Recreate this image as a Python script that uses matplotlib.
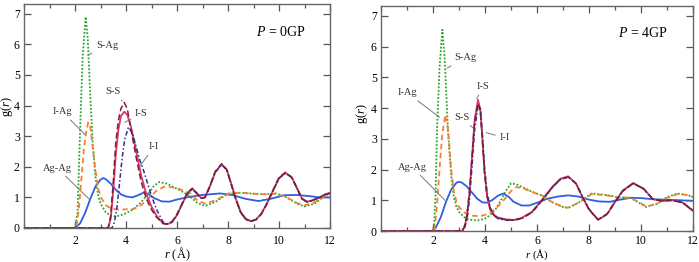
import matplotlib
matplotlib.use("Agg")
import matplotlib.pyplot as plt
from matplotlib.ticker import MultipleLocator

plt.rcParams['font.family'] = ['Liberation Serif', 'DejaVu Serif']
plt.rcParams['mathtext.fontset'] = 'custom'
plt.rcParams['mathtext.rm'] = 'Liberation Serif'
plt.rcParams['mathtext.it'] = 'Liberation Serif:italic'

# ---------------- P = 0 GPa ----------------
r0_agag = [0, 2.0, 2.2, 2.4, 2.6, 2.8, 3.0, 3.1, 3.2, 3.4, 3.6, 3.8, 4.0, 4.25, 4.5, 4.7, 4.9, 5.1, 5.4, 5.7,
           6.0, 6.5, 7.0, 7.7, 8.2, 8.7, 9.2, 9.7, 10.2, 10.7, 11.2, 11.6, 12.0]
g0_agag = [0, 0, 0.15, 0.5, 0.95, 1.35, 1.58, 1.63, 1.6, 1.45, 1.25, 1.1, 1.03, 1.0, 1.08, 1.16, 1.1, 0.98, 0.87, 0.86,
           0.93, 1.02, 1.08, 1.13, 1.07, 0.95, 0.88, 0.96, 1.07, 1.08, 1.04, 1.0, 1.0]

r0_sag = [0, 2.0, 2.1, 2.2, 2.3, 2.42, 2.5, 2.6, 2.7, 2.8, 2.9, 3.0, 3.2, 3.4, 3.6, 3.8, 4.0, 4.3, 4.6, 4.9, 5.1,
          5.3, 5.6, 6.0, 6.4, 6.8, 7.1, 7.5, 8.0, 8.5, 9.0, 9.5, 9.9, 10.3, 10.7, 11.0, 11.4, 11.8, 12.0]
g0_sag = [0, 0, 0.5, 3.2, 5.6, 6.9, 6.2, 4.3, 2.7, 1.7, 1.1, 0.8, 0.52, 0.4, 0.38, 0.42, 0.48, 0.62, 0.85, 1.15, 1.38,
          1.5, 1.45, 1.28, 1.1, 0.82, 0.72, 0.85, 1.12, 1.15, 1.12, 1.1, 1.13, 1.0, 0.8, 0.7, 0.8, 1.05, 1.15]

r0_iag = [0, 2.05, 2.15, 2.25, 2.35, 2.45, 2.52, 2.6, 2.7, 2.8, 2.9, 3.0, 3.2, 3.4, 3.7, 4.0, 4.3, 4.6, 4.9, 5.2,
          5.5, 5.8, 6.1, 6.5, 6.8, 7.1, 7.5, 8.0, 8.5, 9.0, 9.5, 9.9, 10.3, 10.7, 11.0, 11.4, 11.8, 12.0]
g0_iag = [0, 0, 0.6, 1.6, 2.6, 3.2, 3.45, 3.3, 2.6, 1.9, 1.35, 1.02, 0.75, 0.64, 0.6, 0.61, 0.62, 0.75, 0.98, 1.22,
          1.35, 1.33, 1.27, 1.15, 0.9, 0.8, 0.9, 1.12, 1.16, 1.12, 1.1, 1.12, 1.0, 0.82, 0.74, 0.84, 1.05, 1.15]

r0_ss = [0, 3.3, 3.4, 3.5, 3.6, 3.7, 3.8, 3.93, 4.05, 4.2, 4.4, 4.6, 4.8, 5.0, 5.2, 5.45, 5.6, 5.8, 6.0, 6.2, 6.4,
         6.6, 6.75, 6.95, 7.1, 7.3, 7.5, 7.75, 7.95, 8.1, 8.3, 8.5, 8.7, 8.9, 9.1, 9.3, 9.5, 9.8, 10.0, 10.25,
         10.5, 10.7, 10.9, 11.1, 11.3, 11.6, 11.8, 12.0]
g0_ss = [0, 0, 0.4, 1.5, 2.8, 3.5, 3.9, 4.1, 3.9, 3.2, 2.3, 1.5, 0.95, 0.6, 0.35, 0.15, 0.13, 0.2, 0.45, 0.8, 1.15,
         1.3, 1.15, 0.97, 1.0, 1.4, 1.85, 2.1, 1.9, 1.5, 0.95, 0.5, 0.28, 0.22, 0.27, 0.45, 0.75, 1.3, 1.65, 1.82,
         1.65, 1.3, 0.95, 0.85, 0.9, 1.0, 1.1, 1.15]
r0_is = r0_ss
g0_is = [0, 0, 0.3, 1.2, 2.4, 3.2, 3.65, 3.8, 3.7, 3.3, 2.5, 1.7, 1.1, 0.7, 0.4, 0.15, 0.12, 0.18, 0.42, 0.78, 1.12,
         1.28, 1.17, 0.98, 1.0, 1.38, 1.82, 2.08, 1.92, 1.52, 0.97, 0.52, 0.3, 0.23, 0.28, 0.46, 0.76, 1.28, 1.62, 1.8,
         1.66, 1.32, 0.97, 0.86, 0.9, 1.0, 1.08, 1.12]
r0_ii = [0, 3.45, 3.55, 3.65, 3.75, 3.85, 3.95, 4.1, 4.25, 4.4, 4.55, 4.7, 4.85, 5.0, 5.2, 5.45, 5.6, 5.8, 6.0, 6.2,
         6.4, 6.6, 6.75, 6.95, 7.1, 7.3, 7.5, 7.75, 7.95, 8.1, 8.3, 8.5, 8.7, 8.9, 9.1, 9.3, 9.5, 9.8, 10.0, 10.25,
         10.5, 10.7, 10.9, 11.1, 11.3, 11.6, 11.8, 12.0]
g0_ii = [0, 0, 0.2, 0.7, 1.5, 2.3, 2.9, 3.3, 3.1, 2.65, 2.2, 1.85, 1.45, 1.05, 0.6, 0.2, 0.14, 0.2, 0.43, 0.78,
         1.12, 1.27, 1.15, 0.97, 1.0, 1.38, 1.83, 2.07, 1.9, 1.5, 0.96, 0.5, 0.28, 0.22, 0.27, 0.45, 0.75, 1.28, 1.63,
         1.8, 1.65, 1.3, 0.95, 0.85, 0.9, 1.0, 1.1, 1.14]

# ---------------- P = 4 GPa ----------------
r4_agag = [0, 1.95, 2.1, 2.3, 2.5, 2.7, 2.9, 3.0, 3.1, 3.3, 3.5, 3.7, 3.9, 4.1, 4.3, 4.5, 4.7, 4.9, 5.1, 5.4, 5.7,
           6.0, 6.4, 6.8, 7.2, 7.6, 8.0, 8.4, 8.8, 9.2, 9.6, 10.0, 10.5, 11.0, 11.5, 12.0]
g4_agag = [0, 0, 0.1, 0.45, 0.95, 1.35, 1.57, 1.6, 1.58, 1.45, 1.25, 1.05, 0.93, 0.92, 1.02, 1.15, 1.22, 1.12, 0.95,
           0.83, 0.83, 0.92, 1.05, 1.12, 1.16, 1.12, 1.02, 0.96, 0.95, 1.02, 1.08, 1.07, 1.03, 1.02, 1.0, 0.98]

r4_sag = [0, 2.0, 2.05, 2.1, 2.15, 2.25, 2.36, 2.45, 2.58, 2.7, 2.8, 2.9, 3.0, 3.2, 3.4, 3.7, 4.0, 4.2, 4.4, 4.6,
          4.8, 5.0, 5.2, 5.5, 5.8, 6.2, 6.6, 7.0, 7.2, 7.6, 8.1, 8.6, 9.1, 9.6, 10.0, 10.2, 10.6, 11.0, 11.4, 11.8, 12.0]
g4_sag = [0, 0, 0.3, 1.2, 3.2, 5.3, 6.55, 5.6, 3.2, 1.8, 1.1, 0.8, 0.62, 0.45, 0.37, 0.34, 0.4, 0.52, 0.7, 0.98,
          1.3, 1.55, 1.52, 1.4, 1.28, 1.15, 0.93, 0.78, 0.75, 0.92, 1.22, 1.18, 1.1, 1.08, 0.88, 0.78, 0.88, 1.1, 1.22,
          1.17, 1.1]

r4_iag = [0, 2.05, 2.15, 2.25, 2.35, 2.47, 2.58, 2.7, 2.8, 2.9, 3.0, 3.2, 3.5, 3.8, 4.1, 4.4, 4.7, 5.0, 5.2, 5.5,
          5.8, 6.2, 6.6, 7.0, 7.2, 7.6, 8.1, 8.6, 9.1, 9.6, 10.0, 10.2, 10.6, 11.0, 11.4, 11.8, 12.0]
g4_iag = [0, 0, 0.8, 2.0, 3.1, 3.78, 3.3, 2.0, 1.3, 0.95, 0.78, 0.6, 0.5, 0.48, 0.55, 0.72, 0.98, 1.3, 1.43, 1.38,
          1.27, 1.15, 0.93, 0.78, 0.76, 0.92, 1.2, 1.17, 1.1, 1.08, 0.9, 0.8, 0.88, 1.08, 1.2, 1.17, 1.1]

r4_ss = [0, 3.1, 3.2, 3.3, 3.4, 3.5, 3.6, 3.73, 3.82, 3.9, 3.98, 4.08, 4.2, 4.35, 4.5, 4.8, 5.1, 5.4, 5.8,
         6.2, 6.6, 6.9, 7.2, 7.5, 7.75, 8.0, 8.35, 8.7, 9.0, 9.3, 9.7, 10.1, 10.45, 10.8, 11.2, 11.6, 12.0]
g4_is = [0, 0, 0.1, 0.45, 1.2, 2.4, 3.6, 4.27, 3.95, 3.0, 1.95, 1.15, 0.72, 0.52, 0.44, 0.38, 0.36, 0.42, 0.62,
         1.02, 1.45, 1.7, 1.78, 1.55, 1.1, 0.7, 0.36, 0.55, 0.95, 1.32, 1.56, 1.38, 1.04, 0.98, 1.0, 0.92, 0.65]
g4_ss = [0, 0, 0.12, 0.5, 1.25, 2.4, 3.55, 4.15, 3.9, 2.95, 1.9, 1.12, 0.7, 0.5, 0.42, 0.37, 0.35, 0.41, 0.6,
         1.0, 1.43, 1.68, 1.76, 1.54, 1.1, 0.7, 0.37, 0.56, 0.95, 1.3, 1.55, 1.37, 1.04, 0.98, 1.0, 0.93, 0.67]
g4_ii = [0, 0, 0.05, 0.35, 1.0, 2.1, 3.3, 4.05, 4.0, 3.15, 2.1, 1.25, 0.75, 0.5, 0.4, 0.35, 0.35, 0.4, 0.6,
         1.0, 1.42, 1.68, 1.75, 1.55, 1.12, 0.72, 0.37, 0.55, 0.94, 1.3, 1.55, 1.37, 1.04, 0.98, 1.0, 0.93, 0.66]

C_AGAG = '#2f5fe0'
C_SAG = '#2aa52a'
C_IAG = '#f5822e'
C_SS = '#7a2030'
C_IS = '#e0386e'
C_II = '#30308c'

fig = plt.figure(figsize=(6.99, 2.62), dpi=100)
ax1 = fig.add_axes([24 / 699, 34 / 262, 306 / 699, 224 / 262])
ax2 = fig.add_axes([381 / 699, 31 / 262, 312 / 699, 225 / 262])


def draw(ax, d):
    ax.plot(d['agag'][0], d['agag'][1], color=C_AGAG, lw=1.3, ls='-')
    ax.plot(d['sag'][0], d['sag'][1], color=C_SAG, lw=1.3, ls=(0, (1, 1)))
    ax.plot(d['iag'][0], d['iag'][1], color=C_IAG, lw=1.3, ls=(0, (3, 2)))
    ax.plot(d['is'][0], d['is'][1], color=C_IS, lw=1.3, ls='-')
    ax.plot(d['ii'][0], d['ii'][1], color=C_II, lw=1.1, ls=(0, (3, 1.5, 1, 1.5)))
    ax.plot(d['ss'][0], d['ss'][1], color=C_SS, lw=1.1, ls=(0, (4, 2)))
    ax.set_xlim(0, 12)
    ax.set_ylim(0, 7.32)
    ax.xaxis.set_minor_locator(MultipleLocator(1))
    ax.yaxis.set_major_locator(MultipleLocator(1))
    ax.set_xticks([2, 4, 6, 8, 10, 12])
    ax.tick_params(which='both', direction='in', top=True, right=True, color='#555555', labelsize=8.5)
    ax.tick_params(which='major', length=5, width=0.9)
    ax.tick_params(which='minor', length=3, width=0.9)
    ax.tick_params(axis='x', pad=5)
    ax.tick_params(axis='y', pad=3)
    for s in ax.spines.values():
        s.set_color('#666666')
        s.set_linewidth(1.0)
    ax.set_xlabel('$r$ (Å)', fontsize=9)
    ax.set_ylabel('g($r$)', fontsize=9)


draw(ax1, {'agag': (r0_agag, g0_agag), 'sag': (r0_sag, g0_sag), 'iag': (r0_iag, g0_iag),
           'ss': (r0_ss, g0_ss), 'is': (r0_is, g0_is), 'ii': (r0_ii, g0_ii)})
draw(ax2, {'agag': (r4_agag, g4_agag), 'sag': (r4_sag, g4_sag), 'iag': (r4_iag, g4_iag),
           'ss': (r4_ss, g4_ss), 'is': (r4_ss, g4_is), 'ii': (r4_ss, g4_ii)})

ax2.tick_params(axis='x', pad=3)
ax2.xaxis.label.set_fontsize(8)

ax1.xaxis.set_label_coords(0.5, -0.078)
ax1.yaxis.set_label_coords(-0.029, 0.54)
ax2.xaxis.set_label_coords(0.5, -0.074)
ax2.yaxis.set_label_coords(-0.036, 0.52)

ap = dict(arrowstyle='-', color='#777777', lw=0.7, shrinkA=1, shrinkB=0)
fs = 7.5


def lab(ax, txt, xy, xytext):
    ax.annotate(txt, xy=xy, xytext=xytext, fontsize=fs, color='#333333', ha='center', va='center',
                arrowprops=ap)


lab(ax1, 'S-Ag', (2.5, 5.65), (3.25, 5.95))
lab(ax1, 'S-S', (3.85, 4.15), (3.5, 4.45))
lab(ax1, 'I-S', (3.95, 3.45), (4.6, 3.75))
lab(ax1, 'I-I', (4.55, 2.03), (5.1, 2.65))
lab(ax1, 'I-Ag', (2.4, 3.05), (1.5, 3.8))
lab(ax1, 'Ag-Ag', (2.55, 0.95), (1.3, 1.96))
ax1.text(10.05, 6.4, '$P$ = 0GP', fontsize=10, ha='center', va='center')

lab(ax2, 'S-Ag', (2.54, 5.3), (3.25, 5.63))
lab(ax2, 'I-S', (3.68, 4.3), (3.92, 4.7))
lab(ax2, 'S-S', (3.54, 3.35), (3.1, 3.7))
lab(ax2, 'I-I', (4.05, 3.2), (4.75, 3.03))
lab(ax2, 'I-Ag', (2.25, 3.7), (1.0, 4.5))
lab(ax2, 'Ag-Ag', (2.46, 1.0), (1.2, 2.08))
ax2.text(10.05, 6.45, '$P$ = 4GP', fontsize=10, ha='center', va='center')

fig.savefig('out.png', dpi=100)
